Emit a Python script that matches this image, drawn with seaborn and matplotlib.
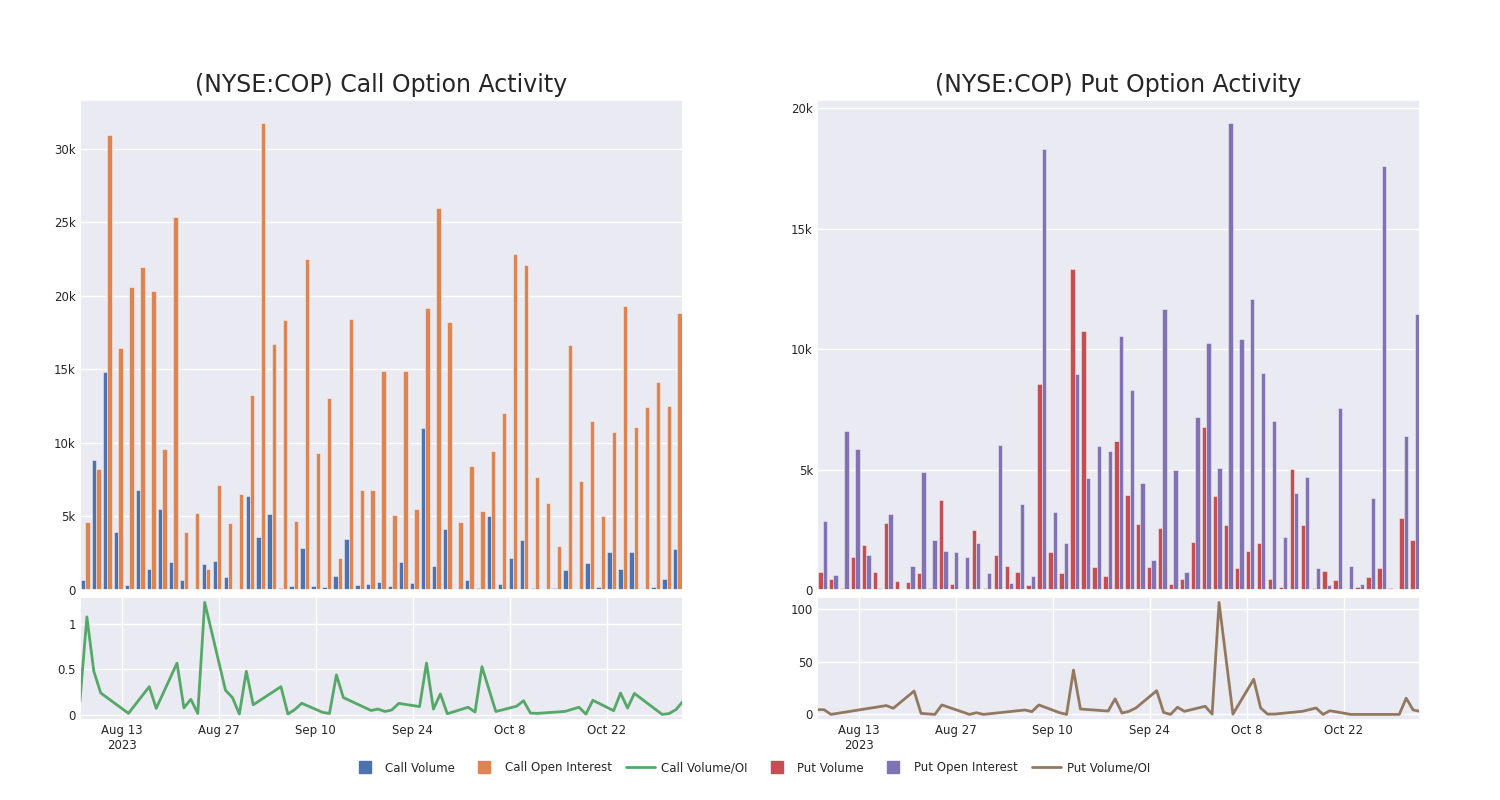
import numpy as np
import pandas as pd
import matplotlib
matplotlib.use("Agg")
import matplotlib.pyplot as plt
from matplotlib.lines import Line2D
from matplotlib.ticker import FuncFormatter, MultipleLocator, FixedLocator
import seaborn as sns

# trading days shown in the chart
dates = ["2023-08-07", "2023-08-08", "2023-08-09", "2023-08-10", "2023-08-14", "2023-08-17",
         "2023-08-18", "2023-08-21", "2023-08-22", "2023-08-23", "2023-08-24", "2023-08-25",
         "2023-08-28", "2023-08-29", "2023-08-30", "2023-08-31", "2023-09-01", "2023-09-05",
         "2023-09-06", "2023-09-07", "2023-09-08", "2023-09-11", "2023-09-12", "2023-09-13",
         "2023-09-14", "2023-09-18", "2023-09-19", "2023-09-20", "2023-09-21", "2023-09-22",
         "2023-09-25", "2023-09-26", "2023-09-27", "2023-09-28", "2023-09-29", "2023-10-02",
         "2023-10-03", "2023-10-04", "2023-10-06", "2023-10-09", "2023-10-10", "2023-10-11",
         "2023-10-12", "2023-10-16", "2023-10-18", "2023-10-19", "2023-10-20", "2023-10-23",
         "2023-10-24", "2023-10-25", "2023-10-26", "2023-10-30", "2023-10-31", "2023-11-01",
         "2023-11-02"]

# values in thousands of contracts
call_volume = [0.7, 8.82, 14.83, 3.92, 0.32, 6.78, 1.43, 5.49, 1.93, 0.66,
               0.07, 1.77, 1.95, 0.86, 0.05, 6.39, 3.58, 5.15, 0.14, 0.27,
               2.86, 0.25, 0.18, 0.95, 3.49, 0.32, 0.43, 0.54, 0.27, 1.88,
               0.5, 10.98, 1.63, 4.17, 0.05, 0.7, 0.16, 5.06, 0.43, 2.15,
               3.42, 0.14, 0.09, 0.11, 1.38, 0.05, 1.86, 0.23, 2.59, 1.43,
               2.61, 0.05, 0.18, 0.73, 2.79]
call_oi = [4.63, 8.2, 30.95, 16.44, 20.61, 21.93, 20.29, 9.59, 25.35, 3.95,
           5.26, 1.43, 7.14, 4.54, 6.53, 13.27, 31.72, 16.71, 18.34, 4.69,
           22.47, 9.32, 13.08, 2.15, 18.41, 6.83, 6.83, 14.9, 5.1, 14.88,
           5.53, 19.18, 25.99, 18.19, 4.63, 8.46, 5.35, 9.48, 12.06, 22.81,
           22.06, 7.71, 5.94, 2.97, 16.67, 7.41, 11.52, 5.06, 10.77, 19.3,
           11.09, 12.45, 14.13, 12.49, 18.84]
call_ratio = [0.15, 1.08, 0.48, 0.24, 0.016, 0.31, 0.07, 0.57, 0.076, 0.17,
              0.015, 1.24, 0.27, 0.19, 0.008, 0.48, 0.11, 0.31, 0.008, 0.058,
              0.127, 0.027, 0.014, 0.44, 0.19, 0.047, 0.063, 0.036, 0.053, 0.126,
              0.09, 0.57, 0.063, 0.23, 0.011, 0.083, 0.03, 0.53, 0.036, 0.094,
              0.155, 0.018, 0.015, 0.037, 0.083, 0.007, 0.16, 0.045, 0.24, 0.074,
              0.235, 0.004, 0.013, 0.058, 0.148]

put_volume = [0.75, 0.47, 0.1, 1.39, 1.87, 0.73, 2.78, 0.37, 0.35, 0.69,
              0.1, 3.75, 0.26, 0.02, 2.48, 0.07, 1.45, 1.0, 0.73, 0.19,
              8.55, 1.59, 0.71, 13.35, 10.75, 0.94, 0.57, 6.19, 3.96, 2.73,
              0.94, 2.59, 0.26, 0.47, 2.01, 6.76, 3.89, 2.71, 0.91, 1.63,
              1.95, 0.44, 0.14, 5.04, 2.71, 0.07, 0.79, 0.4, 0.01, 0.11,
              0.54, 0.91, 0.07, 3.01, 2.06]
put_oi = [2.87, 0.62, 6.61, 5.87, 1.45, 0.07, 3.14, 0.02, 1.01, 4.88,
          2.06, 1.61, 1.57, 1.36, 1.95, 0.69, 6.04, 0.28, 3.59, 0.6,
          18.31, 3.25, 1.97, 8.99, 4.65, 6.0, 5.78, 10.53, 8.3, 4.45,
          1.23, 11.65, 4.97, 0.75, 7.19, 10.24, 5.07, 19.38, 10.43, 12.08,
          9.0, 7.02, 2.22, 4.03, 4.71, 0.91, 0.22, 7.56, 0.98, 0.24,
          3.84, 17.59, 0.04, 6.41, 11.48]
put_ratio = [4.5, 4.5, 0, 1.05, 5.25, 8.4, 5.8, 22.2, 1.0, 0.5,
             0, 9.0, 2.25, 0, 1.6, 0, 0.7, 3.5, 4.2, 2.6,
             9.0, 1.6, 0, 42.1, 5.1, 3.2, 14.8, 1.3, 2.9, 6.1,
             22.5, 1.9, 0, 6.8, 2.9, 7.7, 0.3, 106.4, 0.3, 33.4,
             6.1, 0.3, 0.3, 2.9, 6.1, 0, 3.5, 0, 0, 0,
             0, 0, 15.4, 4.2, 2.9]

date_ticks = ["2023-08-13", "2023-08-27", "2023-09-10", "2023-09-24", "2023-10-08", "2023-10-22"]
date_tick_labels = ["Aug 13\n2023", "Aug 27", "Sep 10", "Sep 24", "Oct 8", "Oct 22"]

pal = sns.color_palette("deep")
BLUE, ORANGE, GREEN, RED, PURPLE, BROWN = pal[0], pal[1], pal[2], pal[3], pal[4], pal[5]

sns.set_theme(style="darkgrid")
plt.rcParams['font.family'] = ['DejaVu Sans']

fig = plt.figure(figsize=(15, 8), dpi=100)

dts = pd.to_datetime(dates)


def k_fmt(v, pos):
    if v == 0:
        return "0"
    return f"{v:g}k"


def draw_panel(left, title, vol, oi, ratio, vol_name, oi_name, c_vol, c_oi, c_ratio, ratio_step):
    ax_bar = fig.add_axes([left, 0.2625, 0.402, 0.6125])
    ax_line = fig.add_axes([left, 0.1, 0.402, 0.154])

    df = pd.DataFrame({'date': dates, vol_name: vol, oi_name: oi})
    df = df.melt(id_vars='date', var_name='series', value_name='value')
    sns.barplot(data=df, x='date', y='value', hue='series', palette=[c_vol, c_oi],
                ax=ax_bar, legend=False, saturation=1, errorbar=None,
                edgecolor=(1, 1, 1, 0.45), linewidth=0.7)
    ax_bar.set_xticks(range(0, len(dates), 10))
    ax_bar.set_xticklabels([])
    ax_bar.set_xlabel("")
    ax_bar.set_ylabel("")
    ax_bar.yaxis.set_major_locator(MultipleLocator(5))
    ax_bar.yaxis.set_major_formatter(FuncFormatter(k_fmt))
    ax_bar.tick_params(axis='both', labelsize=8.5, pad=3, length=0)
    ax_bar.set_title(title, fontsize=17)

    sns.lineplot(x=dts, y=ratio, ax=ax_line, color=c_ratio, linewidth=2)
    ax_line.set_xlim(dts.min(), dts.max())
    ax_line.xaxis.set_major_locator(FixedLocator(pd.to_datetime(date_ticks).map(matplotlib.dates.date2num)))
    ax_line.set_xticklabels(date_tick_labels)
    ax_line.yaxis.set_major_locator(MultipleLocator(ratio_step))
    ax_line.yaxis.set_major_formatter(FuncFormatter(lambda v, p: f"{v:g}"))
    ax_line.tick_params(axis='both', labelsize=8.5, pad=3, length=0)
    ax_line.set_xlabel("")
    ax_line.set_ylabel("")


draw_panel(0.0533, "(NYSE:COP) Call Option Activity", call_volume, call_oi, call_ratio,
           "Call Volume", "Call Open Interest", BLUE, ORANGE, GREEN, 0.5)
draw_panel(0.5447, "(NYSE:COP) Put Option Activity", put_volume, put_oi, put_ratio,
           "Put Volume", "Put Open Interest", RED, PURPLE, BROWN, 50)

handles = [
    Line2D([], [], marker='s', ls='', color=BLUE, markersize=8),
    Line2D([], [], marker='s', ls='', color=ORANGE, markersize=8),
    Line2D([], [], color=GREEN, lw=2),
    Line2D([], [], marker='s', ls='', color=RED, markersize=8),
    Line2D([], [], marker='s', ls='', color=PURPLE, markersize=8),
    Line2D([], [], color=BROWN, lw=2),
]
labels = ["Call Volume", "Call Open Interest", "Call Volume/OI",
          "Put Volume", "Put Open Interest", "Put Volume/OI"]
fig.legend(handles, labels, loc='center', bbox_to_anchor=(0.5, 0.04), ncol=6,
           frameon=False, fontsize=8.5, handlelength=2.5, handletextpad=0.5, columnspacing=1.2)

fig.savefig("out.png", dpi=100)
